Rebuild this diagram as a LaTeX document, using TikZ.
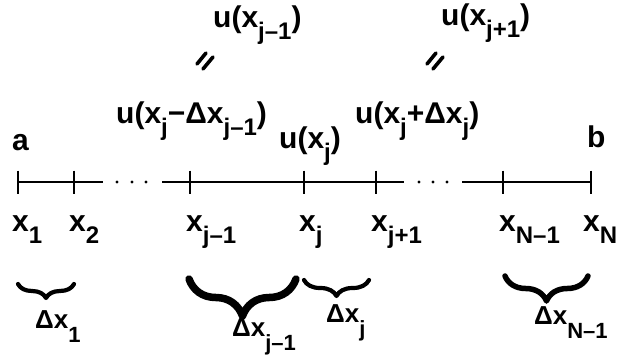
\documentclass[tikz,border=0pt]{standalone}
\usepackage{fontspec}
\setmainfont{Liberation Sans}
\usetikzlibrary{decorations.pathreplacing}
\newcommand{\sbx}[1]{\raisebox{-0.42em}{\fontsize{24}{24}\selectfont #1}}
\newcommand{\sbd}[1]{\raisebox{-0.55em}{\fontsize{22}{22}\selectfont #1}}
\tikzset{
  lbl/.style={inner sep=0pt, anchor=base west, font=\fontsize{30}{32}\selectfont\bfseries},
  dlbl/.style={inner sep=0pt, anchor=base west, font=\fontsize{26}{28}\selectfont\bfseries},
  eqstroke/.style={line width=3.6pt, line cap=round},
  axisline/.style={line width=2pt},
  tickline/.style={line width=1.4pt},
  dotnode/.style={circle, fill=black, inner sep=0pt, minimum size=3.2pt},
  brc/.style={decorate, line cap=round, line join=round,
    decoration={brace, mirror, amplitude=#1}},
}
\begin{document}
\begin{tikzpicture}[x=1pt,y=-1pt]
\useasboundingbox (0,0) rectangle (619,357);
% end labels
\node[lbl] (a) at (12,150) {a};
\node[lbl] (b) at (587,147) {b};
% top labels
\node[lbl] (ujm) at (213,27) {u(x\sbx{j–1})};
\node[lbl] (ujp) at (441,25) {u(x\sbx{j+1})};
\draw[eqstroke] (197,64) -- (206,53);
\draw[eqstroke] (203,69) -- (213,57);
\draw[eqstroke] (427,64) -- (436,53);
\draw[eqstroke] (433,69) -- (443,57);
\node[lbl] (uminus) at (116,123) {u(x\sbx{j}−Δx\sbx{j–1})};
\node[lbl] (uj) at (279,148) {u(x\sbx{j})};
\node[lbl] (uplus) at (355,123) {u(x\sbx{j}+Δx\sbx{j})};
% axis
\coordinate (t1) at (18,182);
\coordinate (t2) at (74,182);
\coordinate (t3) at (190,182);
\coordinate (t4) at (304,182);
\coordinate (t5) at (376,182);
\coordinate (t6) at (503,182);
\coordinate (t7) at (591,182);
\coordinate (e1) at (103,182);
\coordinate (s2) at (162,182);
\coordinate (e2) at (404,182);
\coordinate (s3) at (462,182);
\draw[axisline] (t1) -- (e1);
\draw[axisline] (s2) -- (e2);
\draw[axisline] (s3) -- (t7);
\foreach \t in {t1,t2,t3,t4,t5,t6,t7}
  \draw[tickline] ([yshift=11.5pt]\t) -- ([yshift=-11.5pt]\t);
\node[dotnode] (d1) at (117,182) {};
\node[dotnode] (d2) at (132,182) {};
\node[dotnode] (d3) at (146,182) {};
\node[dotnode] (d4) at (419,182) {};
\node[dotnode] (d5) at (433,182) {};
\node[dotnode] (d6) at (447,182) {};
% axis labels
\node[lbl] (x1) at (12,231) {x\sbx{1}};
\node[lbl] (x2) at (69,231) {x\sbx{2}};
\node[lbl] (xjm) at (186,231) {x\sbx{j–1}};
\node[lbl] (xj) at (299,231) {x\sbx{j}};
\node[lbl] (xjp) at (371,231) {x\sbx{j+1}};
\node[lbl] (xNm) at (499,231) {x\sbx{N–1}};
\node[lbl] (xN) at (583,231) {x\sbx{N}};
% braces
\coordinate (b1l) at (18,284);  \coordinate (b1r) at (74,284);
\coordinate (b2l) at (189,279); \coordinate (b2r) at (296,279);
\coordinate (b3l) at (304,280); \coordinate (b3r) at (369,280);
\coordinate (b4l) at (505,276); \coordinate (b4r) at (588,276);
\draw[brc=14pt, line width=4.2pt] (b1l) -- (b1r);
\draw[brc=37pt, line width=7.5pt] (b2l) -- (b2r);
\draw[brc=16pt, line width=4.2pt] (b3l) -- (b3r);
\draw[brc=25pt, line width=5.5pt] (b4l) -- (b4r);
% delta labels
\node[dlbl] (dx1) at (35,328) {Δx\sbd{1}};
\node[dlbl] (dxjm) at (232,336) {Δx\sbd{j–1}};
\node[dlbl] (dxj) at (326,322) {Δx\sbd{j}};
\node[dlbl] (dxNm) at (534,324) {Δx\sbd{N–1}};
\end{tikzpicture}
\end{document}
